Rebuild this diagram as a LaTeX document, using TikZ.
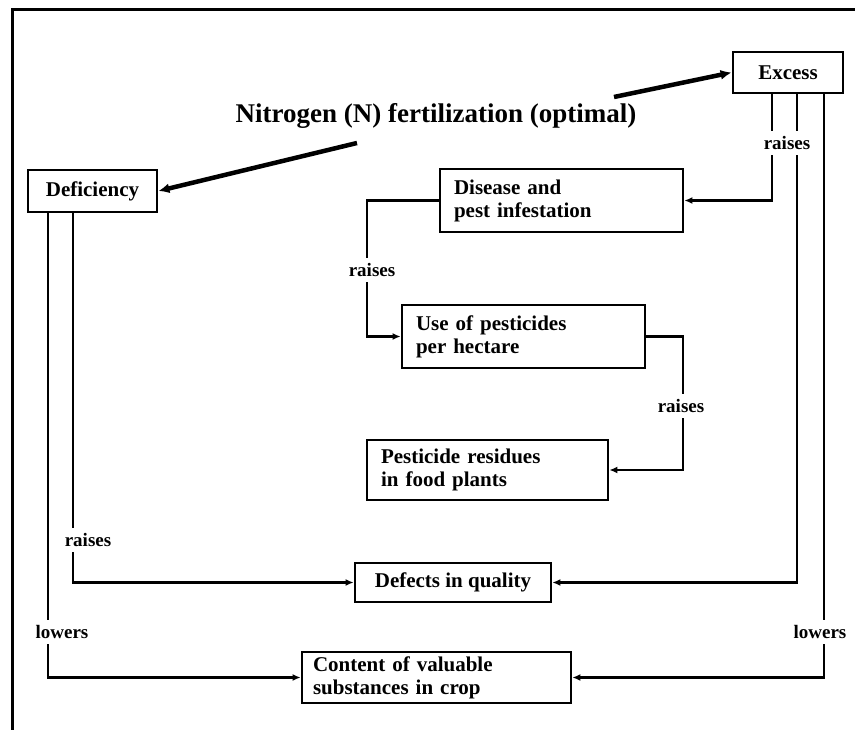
\documentclass[tikz,border=0pt]{standalone}
\usepackage{fontspec}
\setmainfont{Liberation Serif}
\usetikzlibrary{arrows.meta}
\begin{document}
\begin{tikzpicture}[x=1pt,y=-1pt,
  boxnode/.style={draw, line width=2.8pt, rectangle, inner xsep=0pt, inner ysep=0pt,
    font=\bfseries\fontsize{21}{23}\selectfont},
  lefttext/.style={align=left, text width=#1},
  conn/.style={line width=2.4pt, -{Latex[length=8pt,width=7pt]}},
  heavy/.style={line width=4.5pt, -{Latex[length=11pt,width=10pt]}},
  lbl/.style={fill=white, inner xsep=1pt, inner ysep=5pt, font=\bfseries\fontsize{19}{21}\selectfont},
  frame/.style={line width=3pt}
]
\useasboundingbox (0,0) rectangle (855,730);

% outer frame (top and left edges only)
\draw[frame] (12,730) -- (12,10) -- (855,10);

% title
\node[font=\bfseries\fontsize{27}{30}\selectfont] (title) at (436,116) {Nitrogen (N) fertilization (optimal)};

% boxes
\node[boxnode, minimum width=110pt, minimum height=41pt] (exc) at (788,72.5) {Excess};
\node[boxnode, minimum width=129pt, minimum height=42pt] (def) at (92.5,191) {Deficiency};
\node[boxnode, minimum width=243pt, minimum height=63pt, lefttext=215pt] (dis) at (561.5,200.5) {Disease and\\pest infestation};
\node[boxnode, minimum width=243pt, minimum height=63pt, lefttext=215pt] (use) at (523.5,336.5) {Use of pesticides\\per hectare};
\node[boxnode, minimum width=241pt, minimum height=60pt, lefttext=213pt] (res) at (487.5,470) {Pesticide residues\\in food plants};
\node[boxnode, minimum width=196pt, minimum height=39pt] (dq) at (453,582.5) {Defects in quality};
\node[boxnode, minimum width=269pt, minimum height=51pt, lefttext=247pt] (cnt) at (436.5,677.5) {Content of valuable\\substances in crop};

% arrows from the title to the two extremes
\coordinate (ta) at (614,97);
\coordinate (tb) at (357,143);
\draw[heavy] (ta) -- (exc.west);
\draw[heavy] (tb) -- (def.east);

% vertical routing tracks
\coordinate (xa) at (772,0);
\coordinate (xb) at (797,0);
\coordinate (xc) at (824,0);
\coordinate (xd) at (48,0);
\coordinate (xe) at (73,0);
\coordinate (xf) at (367,0);
\coordinate (xg) at (683,0);

% connectors
\draw[conn] (exc.south -| xa) |- (dis.east);
\draw[conn] (exc.south -| xb) |- (dq.east);
\draw[conn] (exc.south -| xc) |- (cnt.east);
\draw[conn] (def.south -| xd) |- (cnt.west);
\draw[conn] (def.south -| xe) |- (dq.west);
\draw[conn] (dis.west) -| (xf |- use.west) -- (use.west);
\draw[conn] (use.east) -| (xg |- res.east) -- (res.east);

% connector labels
\node[lbl] (l1) at (787,143) {raises};
\node[lbl] (l2) at (372,270) {raises};
\node[lbl] (l3) at (681,406) {raises};
\node[lbl] (l4) at (88,540) {raises};
\node[lbl] (l5) at (62,632) {lowers};
\node[lbl] (l6) at (820,632) {lowers};
\end{tikzpicture}
\end{document}
